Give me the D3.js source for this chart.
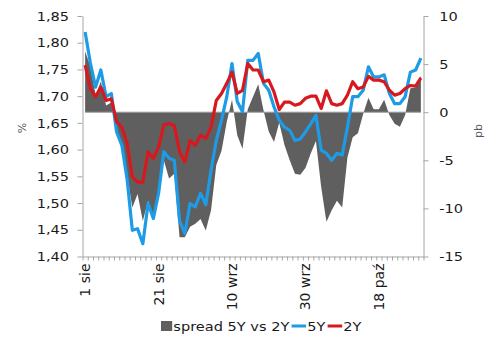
<!DOCTYPE html>
<html>
<head>
<meta charset="utf-8">
<script src="https://cdn.jsdelivr.net/npm/d3@7"></script>
<style>
  body { margin: 0; background: #fff; }
  text { font-family: "DejaVu Sans", Verdana, sans-serif; }
</style>
</head>
<body>
<div id="chart"></div>
<script>
// daily values, 1 sie .. end of paz (business days)
const fiveY = [1.82, 1.762, 1.717, 1.749, 1.699, 1.705, 1.633, 1.608, 1.545, 1.449,
  1.452, 1.424, 1.499, 1.471, 1.518, 1.596, 1.584, 1.58, 1.467, 1.443,
  1.499, 1.493, 1.518, 1.497, 1.561, 1.617, 1.655, 1.699, 1.761, 1.69,
  1.671, 1.767, 1.767, 1.78, 1.724, 1.711, 1.68, 1.655, 1.642, 1.636,
  1.617, 1.62, 1.633, 1.648, 1.664, 1.599, 1.593, 1.58, 1.593, 1.59,
  1.642, 1.699, 1.699, 1.711, 1.755, 1.736, 1.736, 1.74, 1.705, 1.686,
  1.686, 1.699, 1.745, 1.749, 1.771]

const twoY = [1.758, 1.714, 1.699, 1.717, 1.692, 1.695, 1.652, 1.642, 1.612, 1.549,
  1.539, 1.539, 1.596, 1.583, 1.605, 1.646, 1.649, 1.645, 1.596, 1.577,
  1.617, 1.608, 1.627, 1.621, 1.642, 1.692, 1.705, 1.724, 1.745, 1.705,
  1.711, 1.761, 1.749, 1.749, 1.727, 1.73, 1.708, 1.675, 1.689, 1.689,
  1.683, 1.686, 1.696, 1.70, 1.70, 1.677, 1.71, 1.686, 1.683, 1.686,
  1.702, 1.727, 1.714, 1.717, 1.737, 1.73, 1.73, 1.727, 1.711, 1.702,
  1.705, 1.714, 1.72, 1.719, 1.734]

const spread = [6.3, 4.8, 1.8, 3.2, 0.7, 1.0, -2.0, -3.3, -6.5, -9.9,
  -8.5, -11.3, -9.2, -10.9, -8.8, -5.0, -6.9, -6.4, -13.0, -13.0,
  -11.9, -11.6, -11.1, -12.3, -10.2, -5.5, -4.0, -1.0, 1.3, -2.4,
  -3.8, 0.3, 1.6, 2.9, 0.2, -2.0, -3.1, -1.1, -3.4, -5.0,
  -6.4, -6.5, -5.8, -4.3, -3.0, -7.8, -11.4, -10.2, -9.2, -9.9,
  -4.7, -2.6, -2.2, -0.2, 1.5, 0.3, 0.3, 1.3, -0.3, -1.2,
  -1.5, -0.3, 2.5, 2.6, 3.8]

const tickIdx = [0, 14, 28, 42, 56]
const tickLabels = ['1 sie', '21 sie', '10 wrz', '30 wrz', '18 paź']
const leftTicks = [1.40, 1.45, 1.50, 1.55, 1.60, 1.65, 1.70, 1.75, 1.80, 1.85]
const rightTicks = [-15, -10, -5, 0, 5, 10]

const width = 494
const height = 337
const plotLeft = 82.5
const plotRight = 423.5
const plotTop = 16
const plotBottom = 256.5
const n = fiveY.length
const stretch = 1.12 // the source text is a bit wider than it is tall

const axisColor = '#a6a6a6'
const textColor = '#1a1a1a'

const svg = d3.select('#chart')
  .append('svg')
  .attr('width', width)
  .attr('height', height)

const x = d3.scaleLinear().domain([0, n]).range([plotLeft, plotRight])
const cx = i => x(i + 0.5)
const yL = d3.scaleLinear().domain([1.40, 1.85]).range([plotBottom, plotTop])
const yR = d3.scaleLinear().domain([-15, 10]).range([plotBottom, plotTop])

// spread area
const area = d3.area()
  .x((d, i) => cx(i))
  .y0(yR(0))
  .y1(d => yR(d))

svg.append('path')
  .datum(spread)
  .attr('d', area)
  .attr('fill', '#5f5f5f')

svg.append('line')
  .attr('x1', cx(0)).attr('x2', cx(n - 1))
  .attr('y1', yR(0)).attr('y2', yR(0))
  .attr('stroke', '#9a9a9a')
  .attr('stroke-width', 1)

const line = d3.line()
  .x((d, i) => cx(i))
  .y(d => yL(d))

svg.append('path')
  .datum(fiveY)
  .attr('d', line)
  .attr('fill', 'none')
  .attr('stroke', '#1e9be6')
  .attr('stroke-width', 3.2)
  .attr('stroke-linejoin', 'round')

svg.append('path')
  .datum(twoY)
  .attr('d', line)
  .attr('fill', 'none')
  .attr('stroke', '#d7191f')
  .attr('stroke-width', 3.2)
  .attr('stroke-linejoin', 'round')

// axes
function styleAxis (g) {
  g.select('.domain').attr('stroke', axisColor)
  g.selectAll('.tick line').attr('stroke', axisColor)
  g.selectAll('.tick text')
    .attr('fill', textColor)
    .attr('transform', `scale(${stretch},1)`)
    .style('font-family', '"DejaVu Sans", Verdana, sans-serif')
    .style('font-size', '13px')
}

svg.append('g')
  .attr('transform', `translate(${plotLeft},0)`)
  .call(d3.axisLeft(yL).tickValues(leftTicks).tickSize(5).tickSizeOuter(0)
    .tickPadding(7).tickFormat(d => d3.format('.2f')(d).replace('.', ',')))
  .call(styleAxis)

svg.append('g')
  .attr('transform', `translate(${plotRight},0)`)
  .call(d3.axisRight(yR).tickValues(rightTicks).tickSize(5).tickSizeOuter(0)
    .tickPadding(9))
  .call(styleAxis)
  .selectAll('.tick text').text(d => d < 0 ? '-' + Math.abs(d) : d)

svg.append('g')
  .attr('transform', `translate(0,${plotBottom})`)
  .call(d3.axisBottom(x).tickValues(d3.range(n + 1)).tickSize(4).tickSizeOuter(0).tickFormat(''))
  .call(styleAxis)

svg.append('g')
  .selectAll('text')
  .data(tickIdx)
  .join('text')
  .attr('transform', d => `translate(${cx(d) + 5},${plotBottom + 7}) rotate(-90)`)
  .attr('text-anchor', 'end')
  .attr('fill', textColor)
  .style('font-size', '14px')
  .text((d, i) => tickLabels[i])

svg.append('text')
  .attr('transform', 'translate(26,128) rotate(-90)')
  .attr('text-anchor', 'middle')
  .attr('fill', '#595959')
  .style('font-size', '11px')
  .text('%')

svg.append('text')
  .attr('transform', 'translate(482,131) rotate(-90)')
  .attr('text-anchor', 'middle')
  .attr('fill', '#595959')
  .style('font-size', '11px')
  .text('pb')

// legend
const legend = svg.append('g').attr('transform', `translate(161,326) scale(${stretch},1)`)
let lx = 0
legend.append('rect')
  .attr('x', lx).attr('y', -5).attr('width', 10).attr('height', 10)
  .attr('fill', '#5f5f5f')
lx += 11
const items = [
  { label: 'spread 5Y vs 2Y' },
  { label: '5Y', color: '#1e9be6' },
  { label: '2Y', color: '#d7191f' }
]
items.forEach(it => {
  if (it.color) {
    legend.append('line')
      .attr('x1', lx + 1).attr('x2', lx + 14)
      .attr('y1', 0).attr('y2', 0)
      .attr('stroke', it.color).attr('stroke-width', 3)
    lx += 15
  }
  const t = legend.append('text')
    .attr('x', lx).attr('y', 5)
    .attr('fill', textColor)
    .style('font-size', '13px')
    .text(it.label)
  lx += t.node().getComputedTextLength() + 1
})
</script>
</body>
</html>
